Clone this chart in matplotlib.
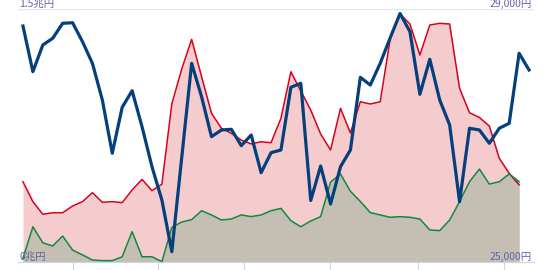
import matplotlib
matplotlib.use("Agg")
import matplotlib.pyplot as plt
import numpy as np

plt.rcParams["font.family"] = ["Noto Sans CJK JP", "DejaVu Sans"]

# weekly values, amounts in 兆円 (left axis)
red_vals = [0.476, 0.358, 0.283, 0.292, 0.292, 0.332, 0.358, 0.411, 0.354, 0.358,
            0.352, 0.427, 0.490, 0.423, 0.461, 0.937, 1.144, 1.320, 1.099, 0.882,
            0.793, 0.763, 0.723, 0.700, 0.713, 0.707, 0.852, 1.128, 1.014, 0.901,
            0.759, 0.664, 0.911, 0.765, 0.950, 0.937, 0.950, 1.320, 1.470, 1.411,
            1.227, 1.405, 1.415, 1.411, 1.030, 0.885, 0.857, 0.806, 0.615, 0.526,
            0.457]
green_vals = [0.022, 0.209, 0.114, 0.095, 0.154, 0.071, 0.042, 0.012, 0.008, 0.008,
              0.031, 0.180, 0.031, 0.031, 0.002, 0.205, 0.237, 0.251, 0.304, 0.279,
              0.249, 0.255, 0.279, 0.269, 0.279, 0.304, 0.318, 0.245, 0.209, 0.243,
              0.269, 0.474, 0.522, 0.419, 0.359, 0.293, 0.279, 0.265, 0.269, 0.265,
              0.255, 0.190, 0.186, 0.249, 0.358, 0.476, 0.551, 0.462, 0.476, 0.522,
              0.476]
# index level in 円 (right axis)
blue_vals = [28731, 28009, 28431, 28537, 28774, 28783, 28483, 28141, 27561, 26719,
             27446, 27708, 27139, 26507, 25980, 25163, 26652, 28141, 27613, 26981,
             27087, 27098, 26839, 27008, 26412, 26728, 26771, 27762, 27825, 25972,
             26518, 25917, 26507, 26771, 27920, 27798, 28141, 28542, 28929, 28641,
             27651, 28205, 27561, 27166, 25953, 27114, 27087, 26877, 27114, 27193,
             28300, 28036]
tick_pos = [5.04, 13.65, 22.3, 30.95, 39.8, 48.5]

x_area = np.arange(len(red_vals))
x_blue = np.arange(len(blue_vals))

fig = plt.figure(figsize=(5.5, 2.7), dpi=100)
ax = fig.add_axes([18 / 550, 8 / 270, 516 / 550, 253 / 270])

ax.fill_between(x_area, 0, red_vals, color="#f4cccd", lw=0)
ax.fill_between(x_area, 0, green_vals, color="#c5bfb3", lw=0)
ax.plot(x_area, red_vals, color="#d8001c", lw=1.1, solid_joinstyle="round")
ax.plot(x_area, green_vals, color="#0f8a3c", lw=1.1, solid_joinstyle="round")

ax.set_xlim(-0.5, 51.5)
ax.set_ylim(0, 1.5)
ax.axhline(1.5, color="#e6e6e6", lw=1, zorder=0)
for s in ["top", "left", "right"]:
    ax.spines[s].set_visible(False)
ax.spines["bottom"].set_color("#ccd6eb")
ax.set_yticks([])
ax.set_xticks(tick_pos)
ax.set_xticklabels([])
ax.tick_params(axis="x", length=6, color="#ccd6eb")

ax2 = ax.twinx()
ax2.plot(x_blue, blue_vals, color="#053f7c", lw=2.3, solid_joinstyle="round")
ax2.set_ylim(25000, 29000)
ax2.set_yticks([])
for s in ["top", "left", "right", "bottom"]:
    ax2.spines[s].set_visible(False)

lab_color = "#6262aa"
ax.text(0.002, 1.0, "1.5兆円", transform=ax.transAxes, ha="left", va="bottom",
        fontsize=7.5, color=lab_color)
ax.text(0.002, 0.0, "0兆円", transform=ax.transAxes, ha="left", va="bottom",
        fontsize=7.5, color=lab_color)
ax.text(0.996, 1.0, "29,000円", transform=ax.transAxes, ha="right", va="bottom",
        fontsize=7.5, color=lab_color)
ax.text(0.996, 0.0, "25,000円", transform=ax.transAxes, ha="right", va="bottom",
        fontsize=7.5, color=lab_color)

fig.savefig("out.png", dpi=100)
